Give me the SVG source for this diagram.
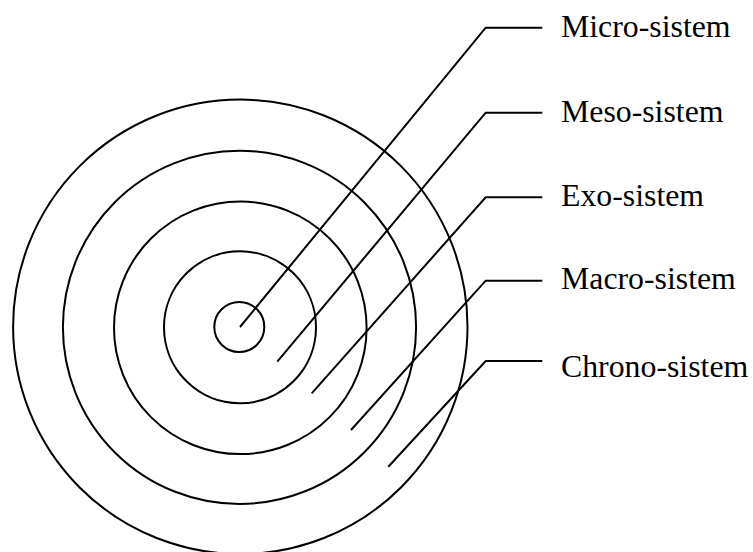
<svg xmlns="http://www.w3.org/2000/svg" width="753" height="552" viewBox="0 0 753 552">
<style>
.ring{fill:none;stroke:#000;stroke-width:2}
.lead{fill:none;stroke:#000;stroke-width:2;stroke-linejoin:miter}
.lbl{font-family:"Liberation Serif","Times New Roman",serif;font-size:31.8px;fill:#000}
</style>
<rect width="753" height="552" fill="#fff"/>
<g id="chrono-ring"><circle class="ring" cx="240.3" cy="326.8" r="227.2"/></g>
<g id="macro-ring"><circle class="ring" cx="239.5" cy="327.3" r="176.6"/></g>
<g id="exo-ring"><circle class="ring" cx="240.3" cy="327.8" r="126.3"/></g>
<g id="meso-ring"><circle class="ring" cx="240" cy="327.3" r="76"/></g>
<g id="micro-ring"><circle class="ring" cx="239.3" cy="327" r="25"/></g>
<g id="connectors">
<polyline class="lead" points="240,327 485.7,27.7 542.3,27.7"/>
<polyline class="lead" points="277.3,361.7 485.7,112.7 542.3,112.7"/>
<polyline class="lead" points="311.7,393.3 485.7,197.3 542.3,197.3"/>
<polyline class="lead" points="351,430 485.7,280.7 542.3,280.7"/>
<polyline class="lead" points="388.3,466.7 485.7,361 542.3,361"/>
</g>
<g id="label-micro"><text class="lbl" x="561" y="36.7">Micro-sistem</text></g>
<g id="label-meso"><text class="lbl" x="561" y="121.5">Meso-sistem</text></g>
<g id="label-exo"><text class="lbl" x="561" y="205.7">Exo-sistem</text></g>
<g id="label-macro"><text class="lbl" x="561" y="289">Macro-sistem</text></g>
<g id="label-chrono"><text class="lbl" x="561" y="376.7">Chrono-sistem</text></g>
</svg>
